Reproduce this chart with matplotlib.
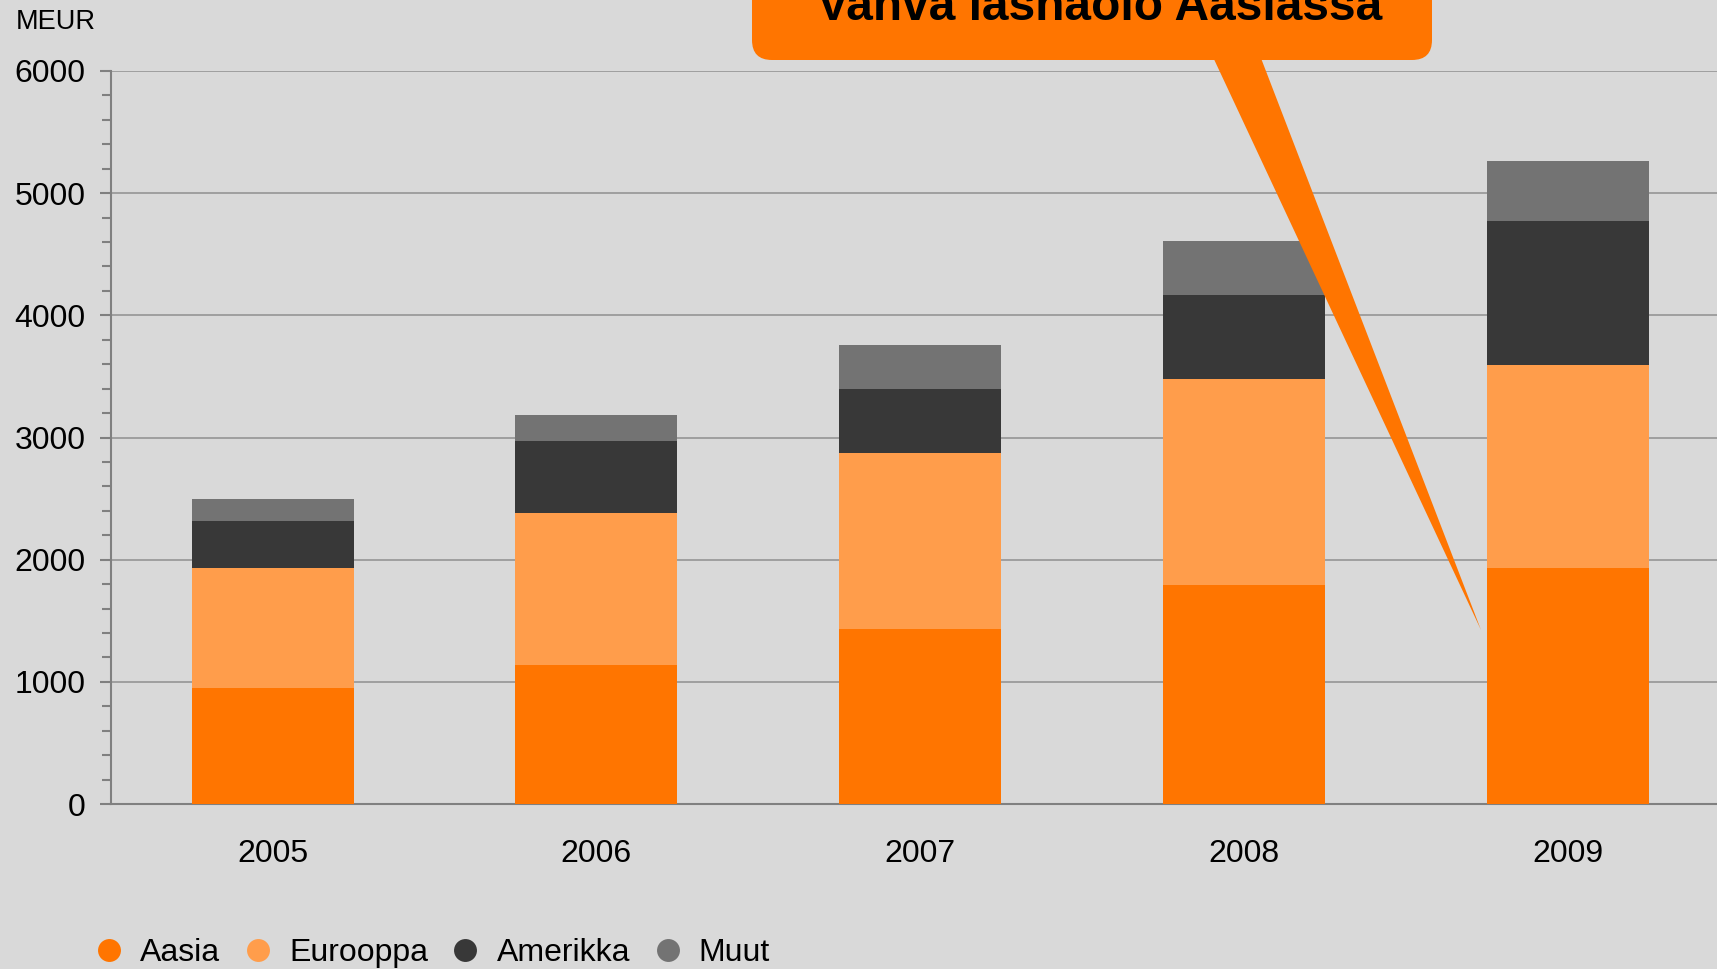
import matplotlib.pyplot as plt
from matplotlib.lines import Line2D
from matplotlib.patches import FancyBboxPatch, Polygon
import numpy as np

plt.rcParams['font.family'] = ['Liberation Sans', 'DejaVu Sans']

# data (MEUR)
years = ['2005', '2006', '2007', '2008', '2009']
aasia = [950, 1140, 1435, 1795, 1930]
eurooppa = [980, 1245, 1435, 1685, 1665]
amerikka = [385, 585, 530, 690, 1175]
muut = [180, 215, 360, 440, 495]
series_names = ['Aasia', 'Eurooppa', 'Amerikka', 'Muut']
colors = ['#FF7500', '#FF9D4B', '#383838', '#737373']
callout = 'Vahva läsnäolo Aasiassa'

bg = '#D9D9D9'
W, H = 1717, 969
fig = plt.figure(figsize=(W / 100, H / 100), dpi=100, facecolor=bg)
ax = fig.add_axes([110.6 / W, 1 - 804 / H, 1 - 110.6 / W, (804 - 71) / H])
ax.set_facecolor(bg)

x = np.arange(len(years))
bottom = np.zeros(len(years))
for vals, c in zip([aasia, eurooppa, amerikka, muut], colors):
    ax.bar(x, vals, width=0.5, bottom=bottom, color=c, zorder=3)
    bottom += np.array(vals)

ax.set_xlim(-0.5, 4.46)
ax.set_ylim(0, 6000)
ax.set_yticks(np.arange(0, 6001, 1000))
ax.set_yticks(np.arange(0, 6001, 200), minor=True)
ax.set_xticks(x)
ax.set_xticklabels(years)
ax.grid(axis='y', color='#9A9A9A', linewidth=1.3, zorder=0)
for s in ['top', 'right']:
    ax.spines[s].set_visible(False)
for s in ['left', 'bottom']:
    ax.spines[s].set_color('#808080')
    ax.spines[s].set_linewidth(1.5)
ax.tick_params(axis='y', which='major', length=8, width=1.5, color='#808080',
               labelsize=23, pad=10)
ax.tick_params(axis='y', which='minor', length=6.5, width=1.5, color='#808080')
ax.tick_params(axis='x', length=0, labelsize=23, pad=25)

fig.text(16 / W, 1 - 22 / H, 'MEUR', fontsize=19.5, va='center', ha='left')

# legend
handles = [Line2D([], [], marker='o', linestyle='', markersize=16.5,
                  markerfacecolor=c, markeredgewidth=0) for c in colors]
fig.legend(handles, series_names, loc='center left',
           bbox_to_anchor=(97 / W, 1 - 953 / H), ncol=4, frameon=False,
           fontsize=23, handlelength=0.75, handletextpad=0.6,
           columnspacing=0.8, borderpad=0, borderaxespad=0)

# callout bubble
ov = fig.add_axes([0, 0, 1, 1], zorder=5)
ov.set_xlim(0, W)
ov.set_ylim(H, 0)
ov.axis('off')
ov.patch.set_visible(False)
ov.add_patch(FancyBboxPatch((752, -80), 680, 140,
                            boxstyle='round,pad=0,rounding_size=20',
                            facecolor='#FF7500', edgecolor='none'))
ov.add_patch(Polygon([(1205, 40), (1254, 40), (1481, 630)],
                     closed=True, facecolor='#FF7500', edgecolor='none'))
ov.text(1100, 20, callout, fontsize=34.5, fontweight='bold',
        ha='center', va='baseline', color='black')

fig.savefig('out.png', dpi=100, facecolor=bg)
